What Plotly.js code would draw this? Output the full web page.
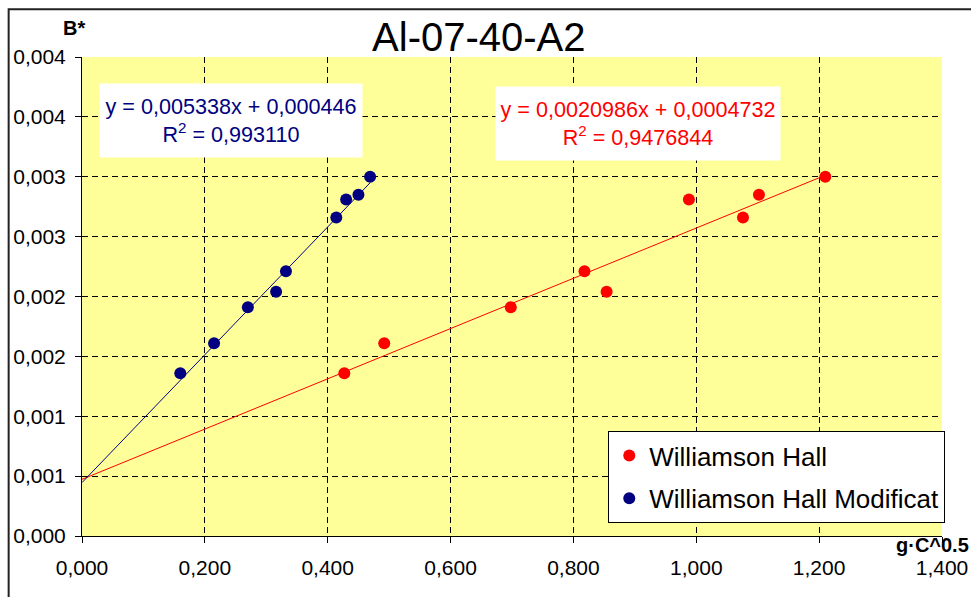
<!DOCTYPE html>
<html>
<head>
<meta charset="utf-8">
<script src="https://cdn.plot.ly/plotly-3.0.1.min.js"></script>
<style>
  html, body { margin: 0; padding: 0; background: #ffffff; }
  #chart { width: 971px; height: 597px; }
</style>
</head>
<body>
<div id="chart"></div>
<script>
// ---- data ----
const whX   = [0.427, 0.492, 0.698, 0.818, 0.854, 0.988, 1.076, 1.102, 1.210];
const whY   = [0.00136, 0.00161, 0.00191, 0.00221, 0.00204, 0.00281, 0.00266, 0.00285, 0.00300];
const whmX  = [0.160, 0.215, 0.270, 0.316, 0.332, 0.414, 0.430, 0.450, 0.469];
const whmY  = [0.00136, 0.00161, 0.00191, 0.00204, 0.00221, 0.00266, 0.00281, 0.00285, 0.00300];
// linear trendlines as printed on the chart: [slope, intercept]
const whTrend  = [0.0020986, 0.0004732];
const whmTrend = [0.005338, 0.000446];
const whEquation  = "y = 0,0020986x + 0,0004732<br>R<sup>2</sup> = 0,9476844";
const whmEquation = "y = 0,005338x + 0,000446<br>R<sup>2</sup> = 0,993110";
const seriesNames = ["Williamson Hall", "Williamson Hall Modificat"];
const xTickVals   = [0, 0.2, 0.4, 0.6, 0.8, 1.0, 1.2, 1.4];
const xTickLabels = ["0,000", "0,200", "0,400", "0,600", "0,800", "1,000", "1,200", "1,400"];
const yTickVals   = [0, 0.0005, 0.001, 0.0015, 0.002, 0.0025, 0.003, 0.0035, 0.004];
const yTickLabels = ["0,000", "0,001", "0,001", "0,002", "0,002", "0,003", "0,003", "0,004", "0,004"];
const chartTitle = "Al-07-40-A2";
const yTitle = "B*";
const xTitle = "g·C^0.5";

// trendline end points computed from the fit (from x = 0 to the last point)
function trendXs(xs) { return [0, Math.max.apply(null, xs)]; }
function trendYs(t, xs) { return trendXs(xs).map(x => t[0] * x + t[1]); }

const RED = "#FF0000";
const NAVY = "#000080";
const FONT = "Liberation Sans, Arial, sans-serif";

const traces = [
  { x: trendXs(whX), y: trendYs(whTrend, whX), mode: "lines", type: "scatter",
    line: { color: RED, width: 1 }, showlegend: false, hoverinfo: "skip" },
  { x: trendXs(whmX), y: trendYs(whmTrend, whmX), mode: "lines", type: "scatter",
    line: { color: NAVY, width: 1 }, showlegend: false, hoverinfo: "skip" },
  { x: whX, y: whY, mode: "markers", type: "scatter", name: seriesNames[0],
    legendgroup: "a", marker: { color: RED, size: 12 } },
  { x: whmX, y: whmY, mode: "markers", type: "scatter", name: seriesNames[1],
    legendgroup: "b", marker: { color: NAVY, size: 12 } }
];

const layout = {
  width: 971, height: 597,
  margin: { l: 82, r: 29, t: 57, b: 61 },
  paper_bgcolor: "#ffffff",
  plot_bgcolor: "#FFFF99",
  font: { family: FONT, color: "#000000", size: 21 },
  title: { text: chartTitle, font: { family: FONT, size: 40, color: "#000000" },
           xref: "paper", x: 0.4614, xanchor: "center",
           yref: "container", y: 0.938, yanchor: "middle" },
  xaxis: {
    range: [0, 1.4], tickvals: xTickVals, ticktext: xTickLabels,
    showline: true, linecolor: "#000000", linewidth: 1,
    ticks: "outside", ticklen: 6, tickcolor: "#000000", tickwidth: 1,
    showgrid: true, gridcolor: "#000000", gridwidth: 1, griddash: "6px,4px",
    zeroline: false, tickfont: { size: 21, family: FONT }, ticklabelstandoff: 7
  },
  yaxis: {
    range: [0, 0.004], tickvals: yTickVals, ticktext: yTickLabels,
    showline: true, linecolor: "#000000", linewidth: 1,
    ticks: "outside", ticklen: 6, tickcolor: "#000000", tickwidth: 1,
    showgrid: true, gridcolor: "#000000", gridwidth: 1, griddash: "6px,4px",
    zeroline: false, tickfont: { size: 21, family: FONT }, ticklabelstandoff: 5
  },
  showlegend: true,
  legend: {
    x: 1.0038, xanchor: "right", y: (536 - 431) / 479.3, yanchor: "top",
    bgcolor: "#ffffff", bordercolor: "#000000", borderwidth: 1,
    font: { family: FONT, size: 26, color: "#000000" },
    tracegroupgap: 6, traceorder: "grouped"
  },
  annotations: [
    { text: whmEquation, xref: "paper", yref: "paper", x: 0.1734, y: 0.868,
      xanchor: "center", yanchor: "middle", showarrow: false,
      bgcolor: "#ffffff", width: 262, height: 73, borderpad: 0,
      font: { family: FONT, size: 21.6, color: NAVY } },
    { text: whEquation, xref: "paper", yref: "paper", x: 0.6466, y: 0.861,
      xanchor: "center", yanchor: "middle", showarrow: false,
      bgcolor: "#ffffff", width: 284, height: 73, borderpad: 0,
      font: { family: FONT, size: 21.6, color: RED } },
    { text: "<b>" + yTitle + "</b>", xref: "paper", yref: "paper",
      x: (74 - 82) / 859.4, y: (536 - 28) / 479.3, xanchor: "center", yanchor: "middle",
      showarrow: false, font: { family: FONT, size: 20, color: "#000000" } },
    { text: "<b>" + xTitle + "</b>", xref: "paper", yref: "paper",
      x: (970 - 82) / 859.4, y: (536 - 545) / 479.3, xanchor: "right", yanchor: "middle",
      showarrow: false, font: { family: FONT, size: 20, color: "#000000" } }
  ],
  shapes: [
    { type: "rect", xref: "paper", yref: "paper",
      x0: (8.7 - 82) / 859.4, x1: 1.2, y0: -0.3, y1: (536 - 9) / 479.3,
      line: { color: "#222222", width: 2 }, fillcolor: "rgba(0,0,0,0)", layer: "above" }
  ]
};

Plotly.newPlot("chart", traces, layout, { displayModeBar: false, staticPlot: true });
</script>
</body>
</html>
